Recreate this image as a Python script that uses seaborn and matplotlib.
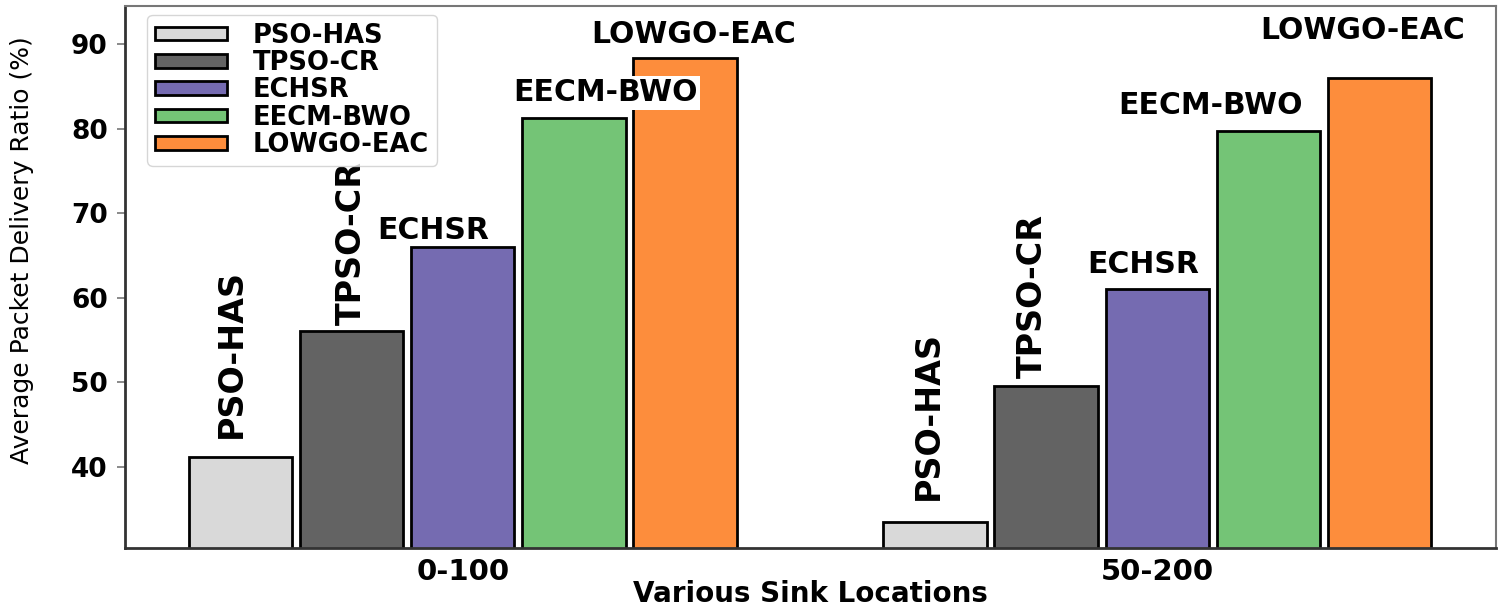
import matplotlib
matplotlib.use("Agg")
import matplotlib.pyplot as plt
import seaborn as sns
import pandas as pd

# ---- data ----
locations = ["0-100", "50-200"]
methods = ["PSO-HAS", "TPSO-CR", "ECHSR", "EECM-BWO", "LOWGO-EAC"]
pso_has = [41.1, 33.5]
tpso_cr = [56.1, 49.5]
echsr = [66.0, 61.0]
eecm_bwo = [81.25, 79.7]
lowgo_eac = [88.3, 86.0]

colors = ["#d9d9d9", "#636363", "#756bb1", "#74c476", "#fd8d3c"]

series = [pso_has, tpso_cr, echsr, eecm_bwo, lowgo_eac]
rows = []
for m, vals in zip(methods, series):
    for loc, v in zip(locations, vals):
        rows.append({"Location": loc, "Method": m, "Value": v})
df = pd.DataFrame(rows)

sns.set_style("white")
plt.rcParams["font.family"] = ["DejaVu Sans"]
plt.rcParams["text.color"] = "black"
plt.rcParams["axes.labelcolor"] = "black"
plt.rcParams["xtick.color"] = "black"
plt.rcParams["ytick.color"] = "black"

fig = plt.figure(figsize=(15, 6.1), dpi=100)
ax = fig.add_axes([0.083, 0.102, 0.914, 0.888])

sns.barplot(data=df, x="Location", y="Value", hue="Method", order=locations,
            hue_order=methods, palette=dict(zip(methods, colors)),
            edgecolor="black", linewidth=2, gap=0.07, errorbar=None,
            saturation=1, ax=ax)

ax.set_ylim(30.4, 94.5)
ax.set_xlim(-0.487, 1.487)
ax.set_yticks([40, 50, 60, 70, 80, 90])

# label offsets per method per group (x offset in data units, y offset)
x_off = [[-0.013, -0.01], [0.0, -0.02], [-0.042, -0.02], [0.045, -0.084], [0.012, -0.025]]
y_off = [[2.3, 2.6], [0.7, 1.0], [2.0, 2.9], [3.0, 3.0], [2.8, 5.6]]
vertical = [True, True, False, False, False]

for i, cont in enumerate(ax.containers):
    for j, bar in enumerate(cont):
        cx = bar.get_x() + bar.get_width() / 2 + x_off[i][j]
        h = bar.get_height()
        if vertical[i]:
            ax.text(cx, h + y_off[i][j], methods[i], rotation=90, ha="center",
                    va="bottom", fontsize=24, fontweight="bold", color="black")
        else:
            kw = {}
            if i == 3 and j == 0:
                kw["bbox"] = dict(facecolor="white", edgecolor="none", pad=2)
            ax.text(cx, h + y_off[i][j], methods[i], ha="center", va="center",
                    fontsize=21.5, fontweight="bold", color="black", zorder=5, **kw)

ax.set_xlabel("Various Sink Locations", fontsize=20, fontweight="bold", labelpad=-4,
              color="black")
ax.set_ylabel("Average Packet Delivery Ratio (%)", fontsize=18, color="black")
ax.yaxis.set_label_coords(-0.066, 0.55)

for lbl in ax.get_xticklabels() + ax.get_yticklabels():
    lbl.set_fontweight("bold")
    lbl.set_color("black")
ax.tick_params(axis="x", labelsize=21, length=4, width=1.2, color="#555555", pad=3)
ax.tick_params(axis="y", labelsize=19, length=6, width=1.2, color="#777777", left=True, pad=6)

for side in ["left", "bottom"]:
    ax.spines[side].set_color("#333333")
    ax.spines[side].set_linewidth(2)
for side in ["top", "right"]:
    ax.spines[side].set_color("#777777")
    ax.spines[side].set_linewidth(1.5)

leg = ax.legend(loc="upper left", bbox_to_anchor=(0.013, 0.993), borderaxespad=0.2,
                prop={"weight": "bold", "size": 18.5}, handlelength=2.8,
                handleheight=0.45, labelspacing=0.05, borderpad=0.3,
                handletextpad=1.0, frameon=True, title=None)
leg.get_frame().set_edgecolor("#cccccc")
for t in leg.get_texts():
    t.set_color("black")

fig.savefig("out.png", dpi=100)
